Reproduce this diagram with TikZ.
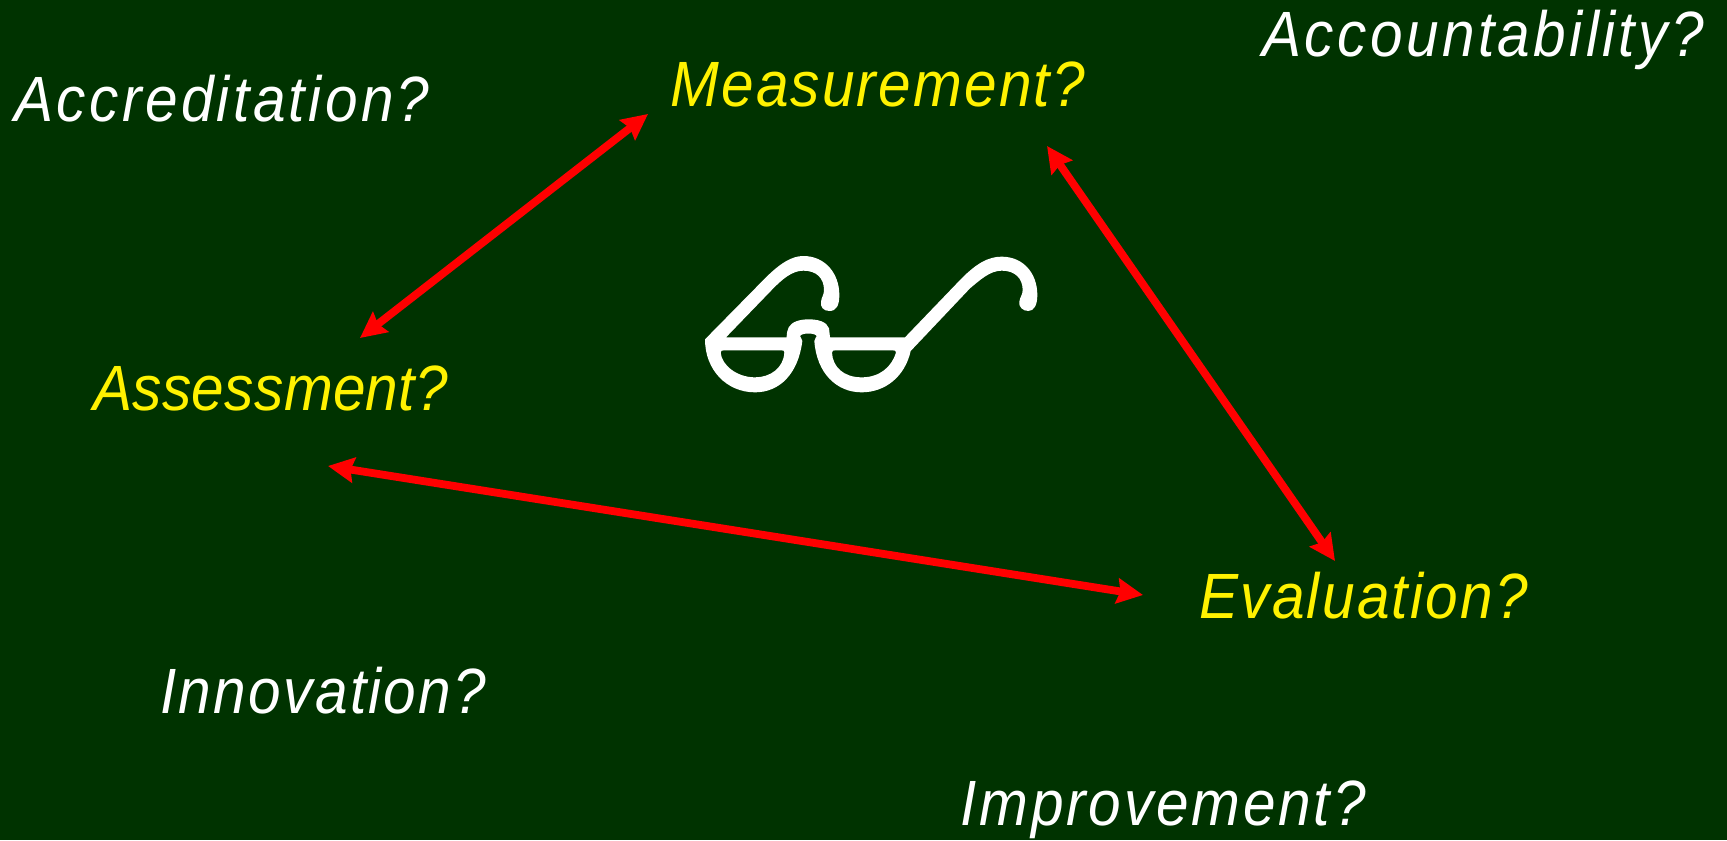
\documentclass[tikz,border=0pt]{standalone}
\usepackage{fontspec}
\setmainfont{Liberation Sans}[ItalicFont={Liberation Sans Italic},FakeStretch=0.915]
\usetikzlibrary{arrows.meta}
\definecolor{boardgreen}{HTML}{003300}

\begin{document}
\begin{tikzpicture}[
    x=0.5pt,
    y=-0.5pt,
    every node/.style={
        anchor=base west,
        inner sep=0pt
    },
    track/.style={font=\fontsize{32pt}{38pt}\selectfont\itshape\addfontfeature{LetterSpace=#1}},
    question/.style={text=white,track=#1},
    term/.style={text=yellow,track=#1},
    link/.style={
        draw=red,
        line width=3.9pt,
        {Stealth[length=13pt,width=12.5pt,inset=1.6pt]}-{Stealth[length=13pt,width=12.5pt,inset=1.6pt]}
    }
]

\useasboundingbox (0,0) rectangle (1727,840);
\fill[boardgreen] (0,0) rectangle (1727,840);

\node[question=5.3] (accred) at (14,121) {Accreditation?};
\node[question=5.3] (account) at (1262,57) {Accountability?};
\node[question=3.6] (innov) at (160,713) {Innovation?};
\node[question=4.4] (improve) at (960,825) {Improvement?};

\node[term=3.4] (meas) at (670,106) {Measurement?};
\node[term=0.5] (assess) at (93,410) {Assessment?};
\node[term=3.5] (eval) at (1199,618) {Evaluation?};

\draw[link] ([shift={(267,-72)}]assess.base west) -- ([shift={(-22,8)}]meas.base west);
\draw[link] ([shift={(377,40)}]meas.base west) -- ([shift={(136,-57)}]eval.base west);
\draw[link] ([shift={(235,56)}]assess.base west) -- ([shift={(-56,-23)}]eval.base west);

% glasses
\begin{scope}[shift={(680,240)},scale=1/3]
\fill[white,even odd rule]
    (75,298) -- (255,115)
    .. controls (300,70) and (335,48) .. (370,48)
    .. controls (435,48) and (478,100) .. (478,165)
    .. controls (478,195) and (470,213) .. (448,213)
    .. controls (430,213) and (420,200) .. (423,185)
    .. controls (425,170) and (432,165) .. (432,150)
    .. controls (432,115) and (410,92) .. (370,92)
    .. controls (335,92) and (305,120) .. (280,145)
    -- (138,292) -- (320,292)
    .. controls (320,280) and (322,270) .. (326,262)
    .. controls (335,245) and (360,238) .. (385,238)
    .. controls (415,238) and (440,245) .. (447,265)
    -- (450,292) -- (675,292) -- (845,115)
    .. controls (890,70) and (925,50) .. (965,50)
    .. controls (1030,50) and (1072,100) .. (1072,165)
    .. controls (1072,195) and (1062,213) .. (1045,213)
    .. controls (1028,213) and (1015,200) .. (1018,185)
    .. controls (1020,170) and (1028,165) .. (1028,150)
    .. controls (1028,115) and (1005,92) .. (965,92)
    .. controls (930,92) and (900,120) .. (870,145)
    -- (692,333)
    .. controls (675,410) and (615,457) .. (545,457)
    .. controls (470,457) and (410,400) .. (403,303)
    .. controls (403,296) and (410,292) .. (410,288)
    .. controls (405,278) and (365,278) .. (360,288)
    .. controls (360,292) and (367,296) .. (367,303)
    .. controls (355,400) and (300,457) .. (225,457)
    .. controls (140,457) and (75,390) .. (75,298)
    -- cycle
    (122,338) .. controls (122,332) and (126,331) .. (132,331) -- (304,331)
    .. controls (310,331) and (314,332) .. (313,338)
    .. controls (310,385) and (270,412) .. (225,412)
    .. controls (170,412) and (125,375) .. (122,338)
    -- cycle
    (456,338) .. controls (456,332) and (460,331) .. (466,331) -- (638,331)
    .. controls (644,331) and (649,332) .. (648,338)
    .. controls (635,380) and (600,412) .. (545,412)
    .. controls (490,412) and (458,380) .. (456,338)
    -- cycle;
\end{scope}

\end{tikzpicture}
\end{document}
